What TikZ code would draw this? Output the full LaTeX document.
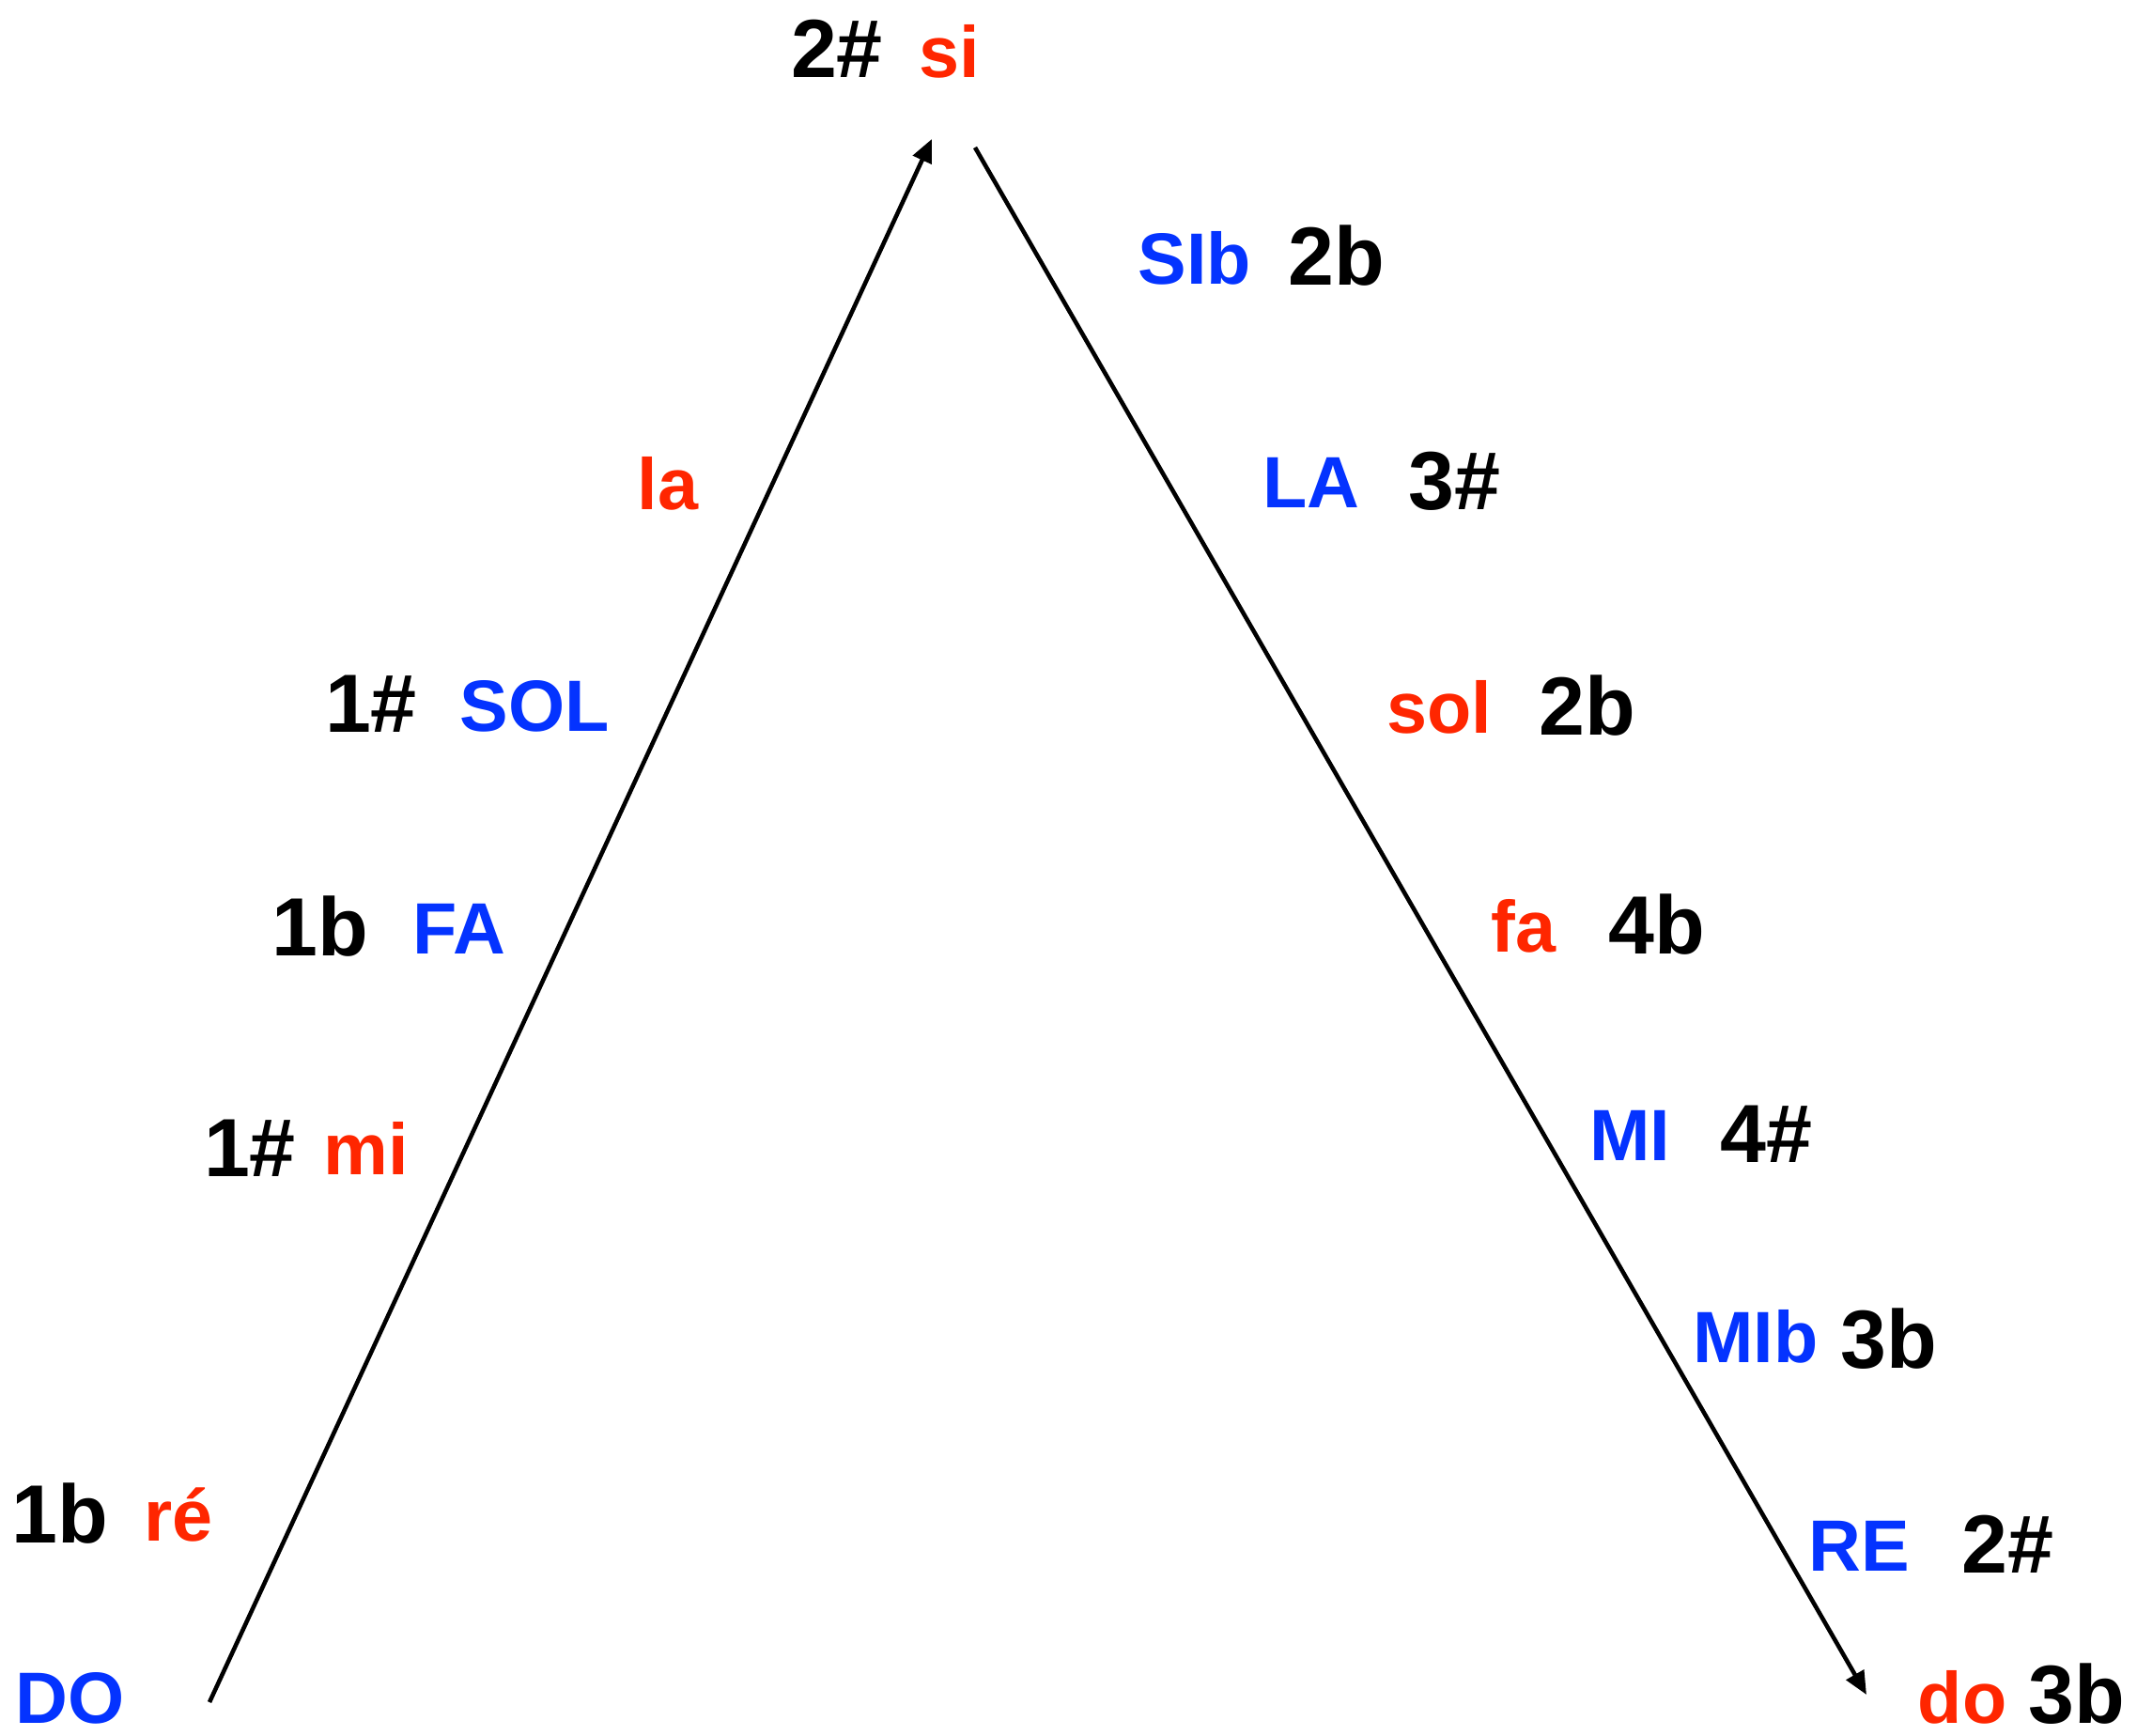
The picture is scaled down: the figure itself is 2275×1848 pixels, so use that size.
\documentclass[tikz,border=0pt]{standalone}
\usepackage{fontspec}
\setmainfont{Liberation Sans}
\usetikzlibrary{arrows.meta}
\definecolor{nblue}{RGB}{4,51,255}
\definecolor{nred}{RGB}{255,38,0}
\tikzset{
  lbl/.style={anchor=base, inner sep=0pt, text depth=0pt},
  bl/.style={lbl, text=nblue, font=\fontsize{22}{26}\selectfont\bfseries},
  rd/.style={lbl, text=nred, font=\fontsize{22}{26}\selectfont\bfseries},
  bk/.style={lbl, text=black, font=\fontsize{25}{30}\selectfont\bfseries},
  conn/.style={line width=1.3pt, -{Triangle[length=7pt,width=6pt]}}
}
\begin{document}
\begin{tikzpicture}[x=0.01cm,y=-0.01cm]
\useasboundingbox (0,0) rectangle (2275,1848);
% top
\node[bk] (t1) at (891,82) {2\#};
\node[rd] (t2) at (1011,82) {si};
% left side
\node[rd] (l1) at (711,542) {la};
\node[bk] (l2a) at (395,779) {1\#};
\node[bl] (l2b) at (569,778) {SOL};
\node[bk] (l3a) at (341,1017) {1b};
\node[bl] (l3b) at (489,1015) {FA};
\node[bk] (l4a) at (266,1252) {1\#};
\node[rd] (l4b) at (390,1250) {mi};
\node[bk] (l5a) at (64,1642) {1b};
\node[rd] (l5b) at (190,1640) {ré};
\node[bl] (l6) at (75,1834) {DO};
% right side
\node[bl] (r1a) at (1272,302) {SIb};
\node[bk] (r1b) at (1423,303) {2b};
\node[bl] (r2a) at (1396,540) {LA};
\node[bk] (r2b) at (1548,542) {3\#};
\node[rd] (r3a) at (1532,780) {sol};
\node[bk] (r3b) at (1690,782) {2b};
\node[rd] (r4a) at (1622,1013) {fa};
\node[bk] (r4b) at (1764,1015) {4b};
\node[bl] (r5a) at (1735,1235) {MI};
\node[bk] (r5b) at (1880,1237) {4\#};
\node[bl] (r6a) at (1869,1450) {MIb};
\node[bk] (r6b) at (2011,1456) {3b};
\node[bl] (r7a) at (1979,1672) {RE};
\node[bk] (r7b) at (2137,1674) {2\#};
\node[rd] (r8a) at (2089,1834) {do};
\node[bk] (r8b) at (2211,1834) {3b};
% connectors
\coordinate (upS) at (223,1812);
\coordinate (upE) at (992,148);
\coordinate (dnS) at (1038,157);
\coordinate (dnE) at (1987,1804);
\draw[conn] (upS) -- (upE);
\draw[conn] (dnS) -- (dnE);
\end{tikzpicture}
\end{document}
